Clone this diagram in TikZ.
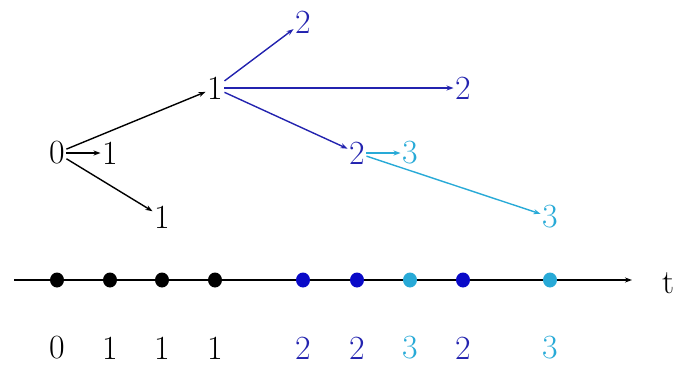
\documentclass[tikz,border=0pt]{standalone}
\usetikzlibrary{arrows.meta,shapes.geometric}
\definecolor{blueA}{RGB}{35,35,175}
\definecolor{blueD}{RGB}{10,10,200}
\definecolor{cyanA}{RGB}{40,170,215}
\begin{document}
\begin{tikzpicture}[x=1bp,y=-1bp,
  lab/.style={font=\fontsize{34}{40}\selectfont, inner sep=1.5bp},
  arr/.style={line width=1.4bp, -{Stealth[length=7bp,width=5bp]}},
  dot/.style={ellipse, fill, inner sep=0pt, minimum width=14bp, minimum height=15bp}]
\useasboundingbox (0,0) rectangle (682,370);
% tree nodes
\node[lab] (a0) at (57,153) {0};
\node[lab] (b1) at (110,153) {1};
\node[lab] (b2) at (162,217) {1};
\node[lab] (b3) at (215,88) {1};
\node[lab, text=blueA] (c1) at (303,22) {2};
\node[lab, text=blueA] (c2) at (463,88) {2};
\node[lab, text=blueA] (c3) at (357,153) {2};
\node[lab, text=cyanA] (d1) at (410,153) {3};
\node[lab, text=cyanA] (d2) at (550,217) {3};
\draw[arr] (a0) -- (b1);
\draw[arr] (a0) -- (b2);
\draw[arr] (a0) -- (b3);
\draw[arr, blueA] (b3) -- (c1);
\draw[arr, blueA] (b3) -- (c2);
\draw[arr, blueA] (b3) -- (c3);
\draw[arr, cyanA] (c3) -- (d1);
\draw[arr, cyanA] (c3) -- (d2);
% time axis
\coordinate (s) at (14,280);
\coordinate (e) at (632,280);
\draw[line width=1.4bp, -{Stealth[length=7bp,width=5bp]}] (s) -- (e);
\node[lab] (t) at (668,283) {t};
\foreach \x/\c/\tc/\v [count=\i] in {57/black/black/0,110/black/black/1,162/black/black/1,215/black/black/1,303/blueD/blueA/2,357/blueD/blueA/2,410/cyanA/cyanA/3,463/blueD/blueA/2,550/cyanA/cyanA/3}{
  \node[dot, fill=\c] (p\i) at (\x,280) {};
  \node[lab, text=\tc] (l\i) at (\x,348) {\v};
}
\end{tikzpicture}
\end{document}
